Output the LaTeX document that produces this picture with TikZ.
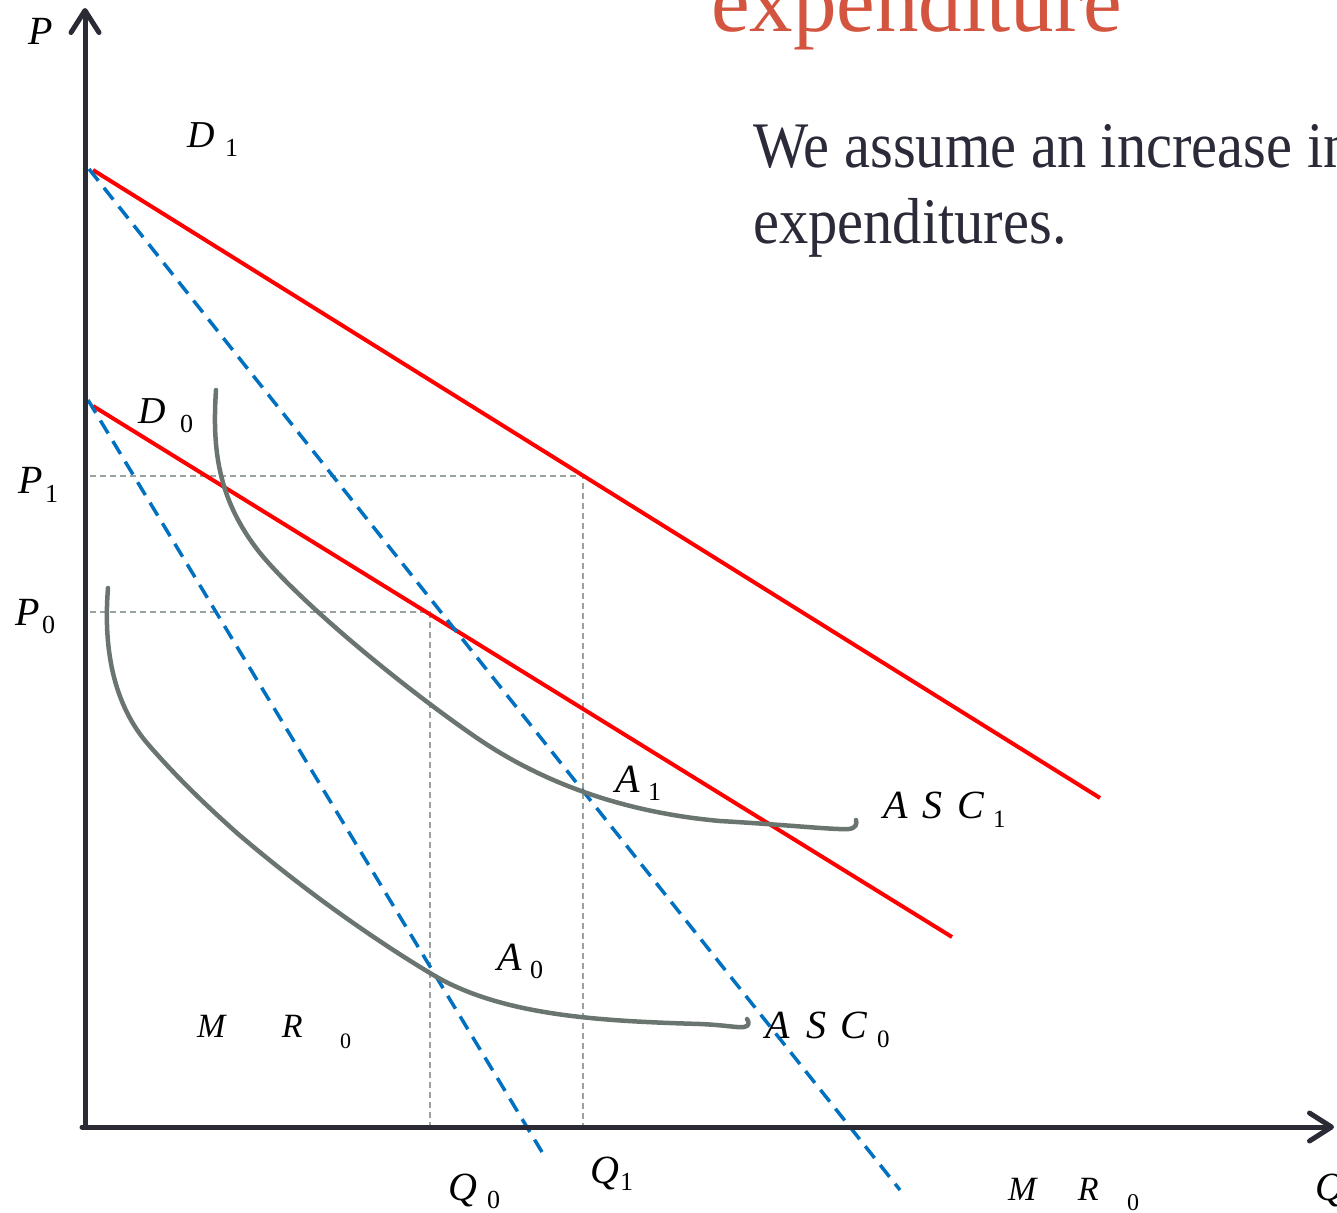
\documentclass[tikz,border=0pt]{standalone}
\usepackage{fontspec}
\setmainfont{Liberation Serif}
\newfontfamily\bodyfont[FakeStretch=0.9]{Liberation Serif}
\usetikzlibrary{arrows.meta}
\definecolor{axisc}{HTML}{2B2B36}
\definecolor{redc}{HTML}{FF0000}
\definecolor{bluec}{HTML}{0070C0}
\definecolor{curvec}{HTML}{6B7570}
\definecolor{guidec}{HTML}{9AA2A0}
\definecolor{titlec}{HTML}{D4553F}
\definecolor{bodyc}{HTML}{2A2A38}
\newcommand{\fs}[1]{\fontsize{#1}{#1}\selectfont}
\begin{document}
\begin{tikzpicture}[x=1pt,y=-1pt,
  axisline/.style={draw=axisc,line width=5pt,line cap=round,
     -{Straight Barb[length=22pt,width=28pt,line cap=round,round]}},
  demand/.style={draw=redc,line width=4pt},
  mr/.style={draw=bluec,line width=3.5pt,dash pattern=on 15pt off 9pt},
  guide/.style={draw=guidec,line width=1.3pt,dash pattern=on 6pt off 4pt},
  asc/.style={draw=curvec,line width=4.5pt,line cap=round,line join=round},
  lbl/.style={anchor=base west,inner sep=0pt,outer sep=0pt,font=\fs{40}\itshape}
]
\useasboundingbox (0,0) rectangle (1337,1212);
\clip (0,0) rectangle (1337,1212);

% title and text
\node[anchor=base west,inner sep=0pt,text=titlec,font=\fs{87}] (title) at (711,32) {expenditure};
\node[anchor=base west,inner sep=0pt,text=bodyc,font=\bodyfont\fs{65}] (body1) at (753,167) {We assume an increase in};
\node[anchor=base west,inner sep=0pt,text=bodyc,font=\bodyfont\fs{65}] (body2) at (753,243) {expenditures.};

% coordinates
\coordinate (O) at (85,1127);
\coordinate (Ytop) at (85,8);
\coordinate (Xstart) at (82,1127);
\coordinate (Xend) at (1334,1127);
\coordinate (D1a) at (93,170);
\coordinate (D1b) at (1100,798);
\coordinate (D0a) at (93,406);
\coordinate (D0b) at (952,937);
\coordinate (M1a) at (89,169);
\coordinate (M1b) at (900,1190);
\coordinate (M0a) at (88,400);
\coordinate (M0b) at (542,1152);
\coordinate (P1l) at (90,476);
\coordinate (P1r) at (583,476);
\coordinate (Q1b) at (583,1132);
\coordinate (P0l) at (90,612);
\coordinate (P0r) at (430,612);
\coordinate (Q0b) at (430,1125);

% guides
\draw[guide] (P1l) -- (P1r) -- (Q1b);
\draw[guide] (P0l) -- (P0r) -- (Q0b);

% demand lines
\draw[demand] (D1a) -- (D1b);
\draw[demand] (D0a) -- (D0b);

% marginal revenue lines
\draw[mr] (M1a) -- (M1b);
\draw[mr] (M0a) -- (M0b);

% ASC curves
\draw[asc] (216,390) .. controls (212,450) and (218,500) .. (260,553)
  .. controls (300,602) and (400,685) .. (477,738)
  .. controls (540,781) and (620,812) .. (720,821)
  .. controls (790,825) and (835,830) .. (849,829)
  .. controls (856,828) and (857,824) .. (856,820);
\draw[asc] (108,588) .. controls (104,638) and (109,698) .. (147,743)
  .. controls (173,773) and (200,800) .. (237,833)
  .. controls (300,887) and (370,937) .. (430,973)
  .. controls (500,1016) and (600,1021) .. (700,1024)
  .. controls (725,1025) and (738,1028) .. (744,1027)
  .. controls (750,1026) and (749,1022) .. (747,1019);

% axes
\draw[axisline] (O) -- (Ytop);
\draw[axisline] (Xstart) -- (Xend);

% labels
\node[lbl] (Plab) at (28,45) {P};
\node[lbl] (Qlab) at (1315,1200) {Q};
\node[lbl,font=\fs{38}\itshape] (D1lab) at (187,147) {\makebox[38pt][l]{D}\raisebox{-9pt}{\fs{26}\upshape 1}};
\node[lbl,font=\fs{38}\itshape] (D0lab) at (138,423) {\makebox[42pt][l]{D}\raisebox{-9pt}{\fs{26}\upshape 0}};
\node[lbl] (P1lab) at (18,493) {\makebox[27pt][l]{P}\raisebox{-9pt}{\fs{26}\upshape 1}};
\node[lbl] (P0lab) at (15,625) {\makebox[27pt][l]{P}\raisebox{-8pt}{\fs{26}\upshape 0}};
\node[lbl] (A1lab) at (615,792) {\makebox[33pt][l]{A}\raisebox{-8pt}{\fs{26}\upshape 1}};
\node[lbl] (A0lab) at (497,970) {\makebox[33pt][l]{A}\raisebox{-8pt}{\fs{26}\upshape 0}};
\node[lbl] (ASC1lab) at (883,818) {\makebox[39pt][l]{A}\makebox[35pt][l]{S}\makebox[36pt][l]{C}\raisebox{-9pt}{\fs{25}\upshape 1}};
\node[lbl] (ASC0lab) at (765,1038) {\makebox[41pt][l]{A}\makebox[34pt][l]{S}\makebox[37pt][l]{C}\raisebox{-9pt}{\fs{25}\upshape 0}};
\node[lbl,font=\fs{34}\itshape] (MR0l) at (197,1037) {\makebox[85pt][l]{M}\makebox[58pt][l]{R}\raisebox{-11pt}{\fs{22}\upshape 0}};
\node[lbl,font=\fs{34}\itshape] (MR0r) at (1008,1200) {\makebox[70pt][l]{M}\makebox[49pt][l]{R}\raisebox{-10pt}{\fs{24}\upshape 0}};
\node[lbl] (Q0lab) at (448,1200) {\makebox[39pt][l]{Q}\raisebox{-8pt}{\fs{26}\upshape 0}};
\node[lbl] (Q1lab) at (590,1183) {\makebox[30pt][l]{Q}\raisebox{-7pt}{\fs{26}\upshape 1}};
\end{tikzpicture}
\end{document}
